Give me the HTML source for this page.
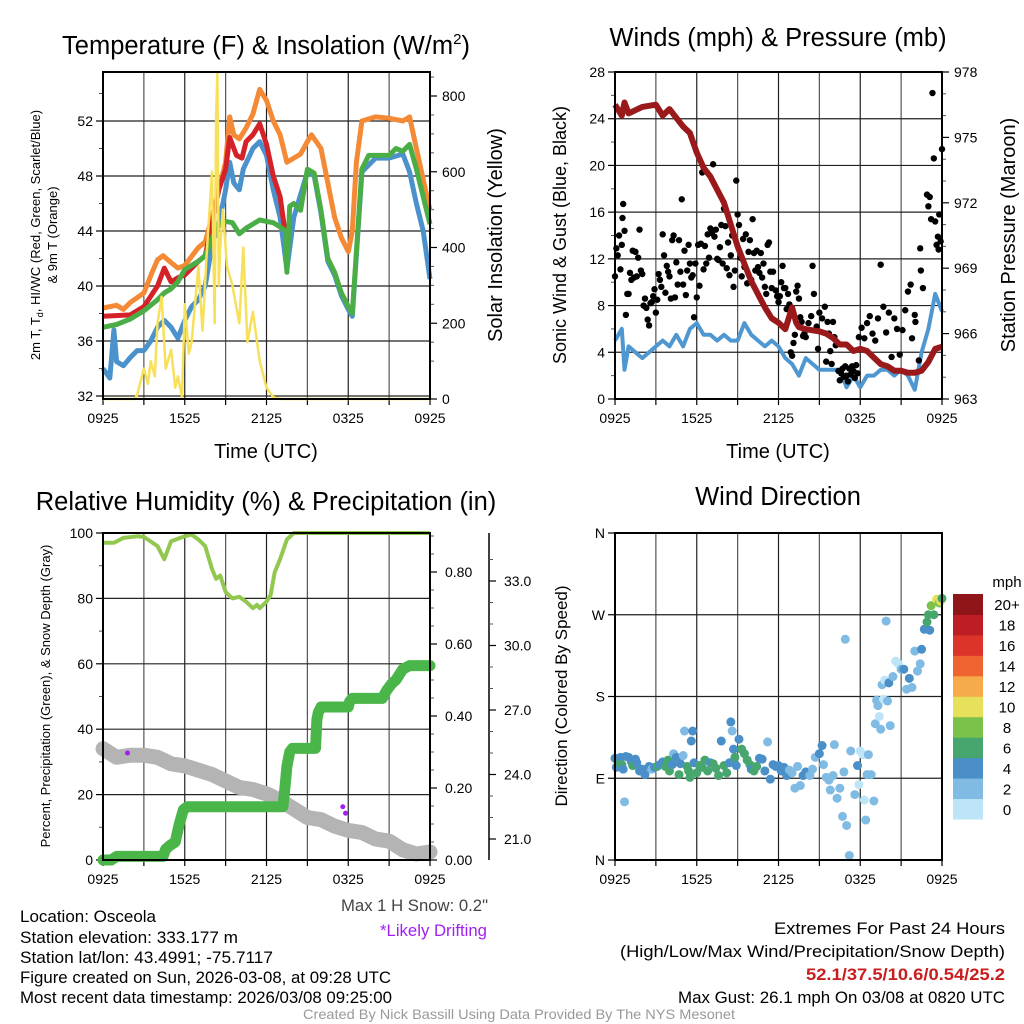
<!DOCTYPE html>
<html><head><meta charset="utf-8"><style>
html,body{margin:0;padding:0;background:#fff;}
svg{display:block;font-family:"Liberation Sans",sans-serif;}
</style></head><body>
<svg id="fig" width="1024" height="1024" viewBox="0 0 1024 1024" xmlns="http://www.w3.org/2000/svg">
<text x="266" y="54" font-size="25.5" text-anchor="middle">Temperature (F) &amp; Insolation (W/m<tspan font-size="15" dy="-10">2</tspan><tspan dy="10">)</tspan></text>
<text x="778" y="46" font-size="25.5" text-anchor="middle">Winds (mph) &amp; Pressure (mb)</text>
<text x="266" y="510" font-size="25.5" text-anchor="middle">Relative Humidity (%) &amp; Precipitation (in)</text>
<text x="778" y="505" font-size="25.5" text-anchor="middle">Wind Direction</text>
<g font-size="17">
<text x="20" y="922" textLength="136" lengthAdjust="spacingAndGlyphs">Location: Osceola</text>
<text x="20" y="943" textLength="218" lengthAdjust="spacingAndGlyphs">Station elevation: 333.177 m</text>
<text x="20" y="963" textLength="253" lengthAdjust="spacingAndGlyphs">Station lat/lon: 43.4991; -75.7117</text>
<text x="20" y="983" textLength="371" lengthAdjust="spacingAndGlyphs">Figure created on Sun, 2026-03-08, at 09:28 UTC</text>
<text x="20" y="1003" textLength="372" lengthAdjust="spacingAndGlyphs">Most recent data timestamp: 2026/03/08 09:25:00</text>
<text x="341" y="911" fill="#444" textLength="147" lengthAdjust="spacingAndGlyphs">Max 1 H Snow: 0.2"</text>
<text x="380" y="936" fill="#a020f0" textLength="107" lengthAdjust="spacingAndGlyphs">*Likely Drifting</text>
<text x="774" y="934" textLength="231" lengthAdjust="spacingAndGlyphs">Extremes For Past 24 Hours</text>
<text x="620" y="957" textLength="385" lengthAdjust="spacingAndGlyphs">(High/Low/Max Wind/Precipitation/Snow Depth)</text>
<text x="806" y="980" fill="#c81e1e" font-weight="bold" textLength="199" lengthAdjust="spacingAndGlyphs">52.1/37.5/10.6/0.54/25.2</text>
<text x="678" y="1003" textLength="327" lengthAdjust="spacingAndGlyphs">Max Gust: 26.1 mph On 03/08 at 0820 UTC</text>
<text x="303" y="1019" font-size="14" fill="#999" textLength="432" lengthAdjust="spacingAndGlyphs">Created By Nick Bassill Using Data Provided By The NYS Mesonet</text>
</g>
</svg>
<script>
// ---- Data ----
const timeTicks=["0925","1525","2125","0325","0925"];
const tempTicks=[32,36,40,44,48,52];
const solarTicks=[0,200,400,600,800];
const windTicks=[0,4,8,12,16,20,24,28];
const presTicks=[963,966,969,972,975,978];
const rhTicks=[0,20,40,60,80,100];
const precipTicks=["0.00","0.20","0.40","0.60","0.80"];
const snowTicks=["21.0","24.0","27.0","30.0","33.0"];
const dirTicks=["N","E","S","W","N"];
const speedLevels=["0","2","4","6","8","10","12","14","16","18","20+"];
const speedColors=["#bde5f7","#80bbe3","#4a8fc8","#47a56e","#7bc24a","#e6e05a","#f6aa4a","#ef6430","#dc3428","#bf1d25","#8f1518"];

const orangeT=[0,1,1.5,2,3,3.6,4,4.4,5,5.5,6,7,7.5,8,8.5,9,9.3,9.6,10,10.5,11,11.5,12,12.5,13,13.5,14,14.5,15,15.3,16,16.5,17,17.5,18,18.3,18.6,19,20,21,22,22.5,23,24];
const orangeV=[38.4,38.6,38.3,38.8,39.5,41,41.9,42.2,41.7,41.3,41.5,42.8,43.2,45,47,49,52.3,51,50.7,51.5,52.5,54.3,53.5,52,51,49,49.3,49.6,50.5,51,50,47.5,45,43.5,42.5,44,49,52,52.3,52.2,52,52.3,50,45.5];
const redT=[0,2,3,4,4.5,5,5.5,6,7,7.5,8,8.5,9,9.3,9.8,10.2,10.5,11,11.5,12,12.5,13,13.35];
const redV=[37.8,37.9,38.5,40,41.3,40.3,40.6,40.8,41.8,42.2,44.5,47,48.5,50.8,49.5,49.3,50.5,51,51.8,50.3,48,46.5,44];
const greenT=[0,1,2,3,4,4.5,5,5.5,6,7,7.5,8,8.5,9,9.5,10,10.5,11,11.5,12,12.5,13,13.4,13.5,13.7,14,14.5,15,15.5,16,16.5,17,17.5,18,18.3,18.7,19,19.5,20,21,21.5,22,22.5,23,24];
const greenV=[37,37.2,37.6,38.2,39,39.5,39.8,40.3,41.2,41.8,42.2,43.5,44.5,44.7,44.6,43.8,44.2,44.5,44.8,44.7,44.6,44.3,44,41,45.8,46,45.5,48.5,48.2,45.5,42,41,39.5,38.5,38,44,48.5,49.5,49.5,49.5,50,49.8,50.3,48.5,44.5];
const blueT=[0,0.5,0.8,1,1.5,2,2.5,3,3.5,4,4.5,5,5.5,6,6.5,7,7.5,8,8.5,9,9.3,9.6,10,10.3,11,11.5,12,12.5,13,13.5,14,15,15.5,16,16.5,17,17.5,18,18.3,18.7,19,20,21,22,22.5,23,23.5,24];
const blueV=[34,33.3,36.8,34.5,34.2,34.8,35.3,35.3,36,37,37.5,37,36.2,37.5,38.5,39,40,43,44.5,47,49,47.5,47,48.5,50,50.5,49.5,47,45,41.2,45,48.3,48,45.3,41.8,40.8,39.3,38.3,37.8,43.8,48.3,49.3,49.3,49.6,48.3,46,44,40.5];
const solarT=[0,2.3,2.5,3,3.3,3.5,3.8,4,4.3,4.6,5,5.3,5.5,5.8,6,6.3,6.5,7,7.3,7.6,8,8.2,8.3,8.4,8.5,8.6,8.8,9.1,9.5,10,10.3,10.6,11,11.5,12,12.5,13,24];
const solarV=[0,0,10,80,40,100,60,200,270,80,130,30,60,5,250,120,150,350,180,380,600,200,750,860,300,400,500,350,300,200,400,150,230,100,30,5,0,0];

const windT=[0,0.5,0.7,1,1.5,2,2.5,3,3.5,4,4.5,5,5.5,6,6.5,7,7.5,8,8.5,9,9.5,10,10.5,11,11.5,12,12.5,13,13.5,14,14.5,15,15.5,16,16.5,17,17.5,18,18.5,19,19.5,20,20.5,21,21.5,22,22.5,23,23.5,24];
const windV=[5,6,2.5,4.5,4,3.5,4,4.5,5,4.5,5.5,4.5,6,6.5,5.5,5.5,5,5.5,5,5,6.5,5.5,5,4.5,5,4.5,3.5,3,2,3.5,3,2.5,2.5,2.5,2.5,1,2,1,2,2,2.5,2.5,2,2.5,2,0.8,4,6,9,7.5];
const presT=[0,0.5,0.7,1,2,3,3.5,4,4.5,5,5.5,6,6.5,7,7.5,8,8.5,9,9.5,10,10.5,11,11.5,12,12.5,13,13.3,13.5,14,15,15.5,16,16.5,17,17.5,18,18.5,19,19.5,20,20.5,21,21.5,22,22.5,23,23.5,24];
const presV=[976.5,976.0,976.6,976.1,976.4,976.5,976.0,976.3,975.9,975.5,975.2,974.3,973.6,973.2,972.6,972.0,971.0,970.0,969.2,968.4,967.8,967.2,966.7,966.5,966.2,967.2,966.5,966.3,966.2,966.1,966.0,965.8,965.5,965.5,965.2,965.3,965.2,964.9,964.6,964.5,964.3,964.3,964.2,964.2,964.3,964.7,965.3,965.4];
const gustT=[0,0.1,0.2,0.3,0.4,0.5,0.55,0.6,0.7,0.8,0.9,1,1.1,1.2,1.3,1.4,1.5,1.6,1.7,1.8,1.9,2,2.1,2.2,2.3,2.4,2.5,2.6,2.7,2.8,2.9,3,3.1,3.2,3.3,3.4,3.5,3.6,3.7,3.8,3.9,4,4.1,4.2,4.3,4.4,4.5,4.6,4.7,4.8,4.9,5,5.1,5.2,5.3,5.4,5.5,5.6,5.7,5.8,5.9,6,6.1,6.2,6.3,6.4,6.5,6.6,6.7,6.8,6.9,7,7.1,7.2,7.3,7.4,7.5,7.6,7.7,7.8,7.9,8,8.1,8.2,8.3,8.4,8.5,8.6,8.7,8.8,8.9,9,9.1,9.2,9.3,9.4,9.5,9.6,9.7,9.8,9.9,10,10.1,10.2,10.3,10.4,10.5,10.6,10.7,10.8,10.9,11,11.1,11.2,11.3,11.4,11.5,11.6,11.8,11.9,12,12.1,12.2,12.3,12.4,12.5,12.6,12.7,12.8,12.9,13,13.1,13.2,13.3,13.4,13.5,13.6,13.7,13.8,13.9,14,14.2,14.4,14.5,14.6,14.7,14.8,14.9,15,15.2,15.4,15.5,15.6,15.7,15.8,15.9,16,16.1,16.2,16.4,16.5,16.6,16.7,16.8,16.9,17,17.1,17.2,17.3,17.4,17.5,17.6,17.7,17.8,17.9,18.1,18.3,18.5,18.7,18.9,19.1,19.3,19.5,19.7,19.9,20.1,20.3,20.5,20.7,20.9,21.1,21.3,21.5,21.7,21.8,22,22.05,22.3,22.4,22.45,22.6,22.9,23,23.1,23.2,23.3,23.4,23.5,23.6,23.7,23.75,23.8,23.9,24];
const gustV=[10.5,12.9,12.3,14,11.1,13.2,15.5,16.7,14.4,7.2,9,9,10.8,10.2,12.7,10.4,12.6,10.5,12.1,14.5,11,10.7,8,8.6,7.8,6.8,6.3,8.2,8.3,8.8,9.4,7.4,8.5,10.7,10.2,9.6,14.1,12.3,9.1,11.4,10.9,10.5,8.6,13.6,14,8.7,11.7,9.8,13.6,10.9,17.1,9.8,12.7,8.9,11,13.2,11.6,10.4,10.6,7,11.6,8.7,13.2,9.7,13.3,19.4,11.1,13.1,11.6,14.1,12.1,14.6,14.2,20.1,13.9,14.5,12,11.9,13,14.9,11.6,16.3,14.8,11.2,13.4,10.6,12.3,14,9.6,11,18.7,15.8,14.9,12.1,10.5,13.7,11.3,14.1,9.9,12.6,13.6,10.2,15.4,12.5,11,12.7,11.3,10.8,12.5,10.4,11.6,9.6,9,13.2,13.4,10.9,9.5,10.9,9.3,8.8,8.3,8.8,10,11.4,9.5,9.5,7.7,9,8.1,4,3.7,4.8,5.5,9.2,9.7,8.6,7,6.6,5.4,5.6,5.3,6.5,7.1,11.4,9,5.9,6.2,4.3,7.4,6.9,7.9,3.2,6.6,5.6,4.1,3,6.6,5.3,4.6,2.4,1.6,2.2,2.6,1.9,2.8,2,1.5,2.6,2.1,2.8,2.4,1.8,2.9,2.2,5.3,6.1,5.2,6.5,7.1,5.6,5,6.9,11.5,7.9,5.7,7.4,3.6,6.9,6,3.8,5.9,7.6,9.2,9.8,5.2,7.2,6.6,3.3,12.9,11,9.5,17.5,16.5,17.3,15.4,26.2,20.6,15.2,13.2,13.9,12.8,15.8,13.5,21.4,17.3,17,19.2,16.9];

const rhT=[0,0.8,1.5,2.5,3,4,4.5,5,6,6.5,7,7.5,8,8.3,8.6,9,9.5,10,10.5,11,11.3,11.5,12,12.3,12.6,13,13.5,14,24];
const rhV=[97,97,98.5,99,98.8,96,92,97.5,99,99.5,98,96,89,86,87,82,80,80.5,79,77,78,77,79,81,88,92,98,100,100];
const precipT=[0,0.6,1,4.4,4.6,4.9,5.3,5.6,5.9,6.2,13.2,13.3,13.4,13.5,13.7,13.9,15.6,15.7,15.8,16,18,18.1,18.3,20.5,20.8,21.2,21.5,22,22.5,24];
const precipV=[0,0,0.01,0.01,0.03,0.04,0.05,0.1,0.14,0.148,0.148,0.18,0.22,0.26,0.30,0.31,0.31,0.39,0.41,0.425,0.425,0.44,0.449,0.449,0.47,0.49,0.50,0.53,0.54,0.54];
const snowT=[0,1,2,3,4,5,6,7,8,9,10,11,12,13,14,15,16,17,18,19,20,21,22,23,24];
const snowV=[25.2,24.8,24.9,24.9,24.8,24.5,24.4,24.2,24.0,23.7,23.4,23.3,23.1,22.8,22.4,22.0,21.9,21.6,21.4,21.3,21.0,20.9,20.5,20.3,20.4];
const driftT=[1.8,17.6,17.8];
const driftV=[25.0,22.5,22.2];

const dirT=[0,0.1,0.2,0.3,0.4,0.5,0.6,0.7,0.8,1.0,1.2,1.3,1.5,1.6,1.8,2.0,2.2,2.5,2.7,2.9,3.1,3.3,3.5,3.7,3.9,4.0,4.2,4.3,4.5,4.7,4.8,5.0,5.1,5.3,5.4,5.5,5.6,5.7,5.8,6.0,6.2,6.4,6.6,6.8,7.0,7.2,7.4,7.6,7.8,8.0,8.2,8.4,8.5,8.6,8.7,8.8,8.9,9.1,9.3,9.5,9.7,9.9,10.0,10.2,10.4,10.6,10.8,11.0,11.2,11.4,11.6,11.8,12.0,12.2,12.4,12.6,12.8,13.0,13.2,13.4,13.6,13.8,14.0,14.3,14.5,14.7,15.0,15.2,15.3,15.5,15.7,15.8,16.0,16.1,16.3,16.5,16.7,16.8,16.9,17.0,17.2,17.3,17.6,17.8,17.9,18.0,18.2,18.3,18.4,18.5,18.6,18.8,19.0,19.1,19.2,19.3,19.4,19.5,19.6,19.7,19.8,19.9,20.0,20.1,20.2,20.4,20.6,20.8,21.0,21.2,21.4,21.6,21.8,22.0,22.2,22.4,22.5,22.7,22.9,23.0,23.1,23.2,23.4,23.6,23.8,23.9,24.0];
const dirV=[112,102,110,108,113,105,100,64,114,113,108,104,111,107,98,100,94,103,100,102,103,105,108,103,110,98,105,117,113,94,106,115,142,103,98,91,131,142,107,96,104,102,110,98,107,106,101,93,131,104,96,107,152,142,122,113,104,133,122,117,110,105,100,98,103,112,111,98,130,89,105,103,104,98,102,93,99,96,79,103,82,93,97,93,100,113,117,126,105,91,88,77,93,127,68,79,48,97,243,38,5,120,72,104,83,120,116,66,44,94,116,94,65,150,176,170,158,144,193,177,198,263,175,195,148,202,219,216,210,210,188,200,190,230,208,216,232,254,262,270,253,280,270,287,283,285,288];
const dirS=[4,4,6,6,3,6,4,2,4,4,4,6,4,4,4,3,4,4,2,4,6,4,4,6,6,6,4,2,4,6,4,2,2,6,6,6,4,4,4,6,6,6,6,6,4,6,6,6,4,6,6,4,4,2,4,6,4,4,6,6,6,6,4,6,6,4,4,4,2,4,4,4,4,4,4,4,2,2,2,2,2,4,4,2,2,2,4,4,2,2,2,2,2,2,2,2,2,2,2,2,2,2,2,4,0,0,0,0,2,2,2,2,2,2,2,2,0,2,2,0,0,2,2,4,2,2,0,0,2,4,2,4,2,2,2,2,4,4,6,6,4,8,6,10,8,10,6];

// ---- Drawing ----
const NS="http://www.w3.org/2000/svg";
const fig=document.getElementById('fig');
function mk(tag,attrs,parent){const e=document.createElementNS(NS,tag);for(const k in attrs)e.setAttribute(k,attrs[k]);(parent||fig).appendChild(e);return e;}
function lin(d0,d1,r0,r1){return v=>r0+(v-d0)*(r1-r0)/(d1-d0);}
function pathD(xs,ys,fx,fy){return xs.map((t,i)=>(i?'L':'M')+fx(t).toFixed(1)+','+fy(ys[i]).toFixed(1)).join('');}

const L=[103,430],R=[615,942];
function panelFrame(x0,x1,y0,y1,hVals,hScale,name){
  const g=mk('g',{});
  
  
  for(let i=0;i<=8;i++){const x=x0+i*(x1-x0)/8;mk('line',{x1:x,x2:x,y1:y0,y2:y1,stroke:(i%2?'#555':'#222'),'stroke-width':1.2},g);
    mk('line',{x1:x,x2:x,y1:y1,y2:y1+6,stroke:'#000','stroke-width':1.2},g);}
  hVals.forEach(v=>{const y=hScale(v);mk('line',{x1:x0,x2:x1,y1:y,y2:y,stroke:'#222','stroke-width':1.2},g);});
  timeTicks.forEach((s,i)=>{const t=mk('text',{x:x0+i*(x1-x0)/4,y:y1+24,'font-size':14,'text-anchor':'middle'},g);t.textContent=s;});
  return g;
}
function frameBox(x0,x1,y0,y1,name){const r=mk('rect',{x:x0,y:y0,width:x1-x0,height:y1-y0,fill:'none',stroke:'#000','stroke-width':2});
  
  }
function leftAxis(x,vals,sc,labels,minor,name){const g=mk('g',{});
  
  
  vals.forEach((v,i)=>{const y=sc(v);mk('line',{x1:x-7,x2:x,y1:y,y2:y,stroke:'#000','stroke-width':1.2},g);const t=mk('text',{x:x-10,y:y+5,'font-size':14,'text-anchor':'end'},g);t.textContent=labels[i];});
  minor.forEach(v=>{const y=sc(v);mk('line',{x1:x-4,x2:x,y1:y,y2:y,stroke:'#555','stroke-width':1},g);});}
function rightAxis(x,vals,sc,labels,minor,name,off){const g=mk('g',{});
  
  
  vals.forEach((v,i)=>{const y=sc(v);mk('line',{x1:x,x2:x+7,y1:y,y2:y,stroke:'#000','stroke-width':1.2},g);const t=mk('text',{x:x+(off||12),y:y+5,'font-size':14},g);t.textContent=labels[i];});
  minor.forEach(v=>{const y=sc(v);mk('line',{x1:x,x2:x+4,y1:y,y2:y,stroke:'#555','stroke-width':1},g);});}
function vtext(x,y,txt,size,name){const t=mk('text',{x:0,y:0,'font-size':size,'text-anchor':'middle',transform:`translate(${x},${y}) rotate(-90)`});t.textContent=txt;
  
  return t;}
function range(a,b,s){const r=[];for(let v=a;v<=b+1e-9;v+=s)r.push(+v.toFixed(3));return r;}

// Panel 1
const x1s=lin(0,24,L[0],L[1]);
const tY=lin(32,52,396,121), sY=lin(0,800,399,96);
panelFrame(L[0],L[1],72,399,tempTicks,tY,'temperature');
leftAxis(L[0],tempTicks,tY,tempTicks.map(String),range(34,54,2).filter(v=>v%4),'temperature-axis');
rightAxis(L[1],solarTicks,sY,solarTicks.map(String),range(100,850,50).filter(v=>v%200),'solar-axis');
let p;
p=mk('path',{d:pathD(orangeT,orangeV,x1s,tY),fill:'none',stroke:'#f48a36','stroke-width':5,'stroke-linejoin':'round'});


p=mk('path',{d:pathD(blueT,blueV,x1s,tY),fill:'none',stroke:'#4b92cc','stroke-width':5,'stroke-linejoin':'round'});


p=mk('path',{d:pathD(redT,redV,x1s,tY),fill:'none',stroke:'#d42228','stroke-width':5,'stroke-linejoin':'round'});


p=mk('path',{d:pathD(greenT,greenV,x1s,tY),fill:'none',stroke:'#4aad46','stroke-width':5,'stroke-linejoin':'round'});


p=mk('path',{d:pathD(solarT,solarV,x1s,sY),fill:'none',stroke:'#f7e05a','stroke-width':2.5,'stroke-linejoin':'round'});


frameBox(L[0],L[1],72,399,'temperature');
const tl=vtext(40,235,'2m T, T',13,'temperature-axis-title');
const sub=mk('tspan',{'font-size':9,dy:3},tl);sub.textContent='d';
const rest=mk('tspan',{dy:-3},tl);rest.textContent=', HI/WC (Red, Green, Scarlet/Blue)';
vtext(57,235,'& 9m T (Orange)',13,'temperature-axis-title-2');
vtext(502,235,'Solar Insolation (Yellow)',20,'solar-axis-title');
let tt=mk('text',{x:266,y:458,'font-size':20,'text-anchor':'middle'});tt.textContent='Time (UTC)';



// Panel 2
const x2s=lin(0,24,R[0],R[1]);
const wY=lin(0,28,399,72), pY=lin(963,978,399,72);
panelFrame(R[0],R[1],72,399,windTicks.slice(1,-1),wY,'winds');
leftAxis(R[0],windTicks,wY,windTicks.map(String),range(2,26,2).filter(v=>v%4),'wind-axis');
rightAxis(R[1],presTicks,pY,presTicks.map(String),range(964,977,1).filter(v=>(v-963)%3),'pressure-axis');
p=mk('path',{d:pathD(windT,windV,x2s,wY),fill:'none',stroke:'#4f97d1','stroke-width':4,'stroke-linejoin':'round'});


const gg=mk('g',{});


gustT.forEach((t,i)=>{mk('circle',{cx:x2s(t),cy:wY(gustV[i]),r:3.2,fill:'#000'},gg);});
p=mk('path',{d:pathD(presT,presV,x2s,pY),fill:'none',stroke:'#9a1a1c','stroke-width':6,'stroke-linejoin':'round'});


frameBox(R[0],R[1],72,399,'winds');
vtext(566,235,'Sonic Wind & Gust (Blue, Black)',18,'wind-axis-title');
vtext(1015,235,'Station Pressure (Maroon)',20,'pressure-axis-title');
tt=mk('text',{x:778,y:458,'font-size':20,'text-anchor':'middle'});tt.textContent='Time (UTC)';



// Panel 3
const rY=lin(0,100,860,533), prY=lin(0,0.8,860,572), snY=lin(21,33,839,581);
panelFrame(L[0],L[1],533,860,rhTicks,rY,'humidity');
leftAxis(L[0],rhTicks,rY,rhTicks.map(String),range(10,90,10).filter(v=>v%20),'percent-axis');
rightAxis(L[1],precipTicks.map(Number),prY,precipTicks,range(0.05,0.9,0.05).filter(v=>Math.round(v*100)%20),'precip-axis',15);
mk('line',{x1:489,x2:489,y1:533,y2:860,stroke:'#000','stroke-width':1.5});
rightAxis(489,snowTicks.map(Number),snY,snowTicks,range(22,34,1).filter(v=>v%3),'snow-axis',15);
p=mk('path',{d:pathD(rhT,rhV,x1s,rY),fill:'none',stroke:'#92c850','stroke-width':4,'stroke-linejoin':'round'});


p=mk('path',{d:pathD(snowT,snowV,x1s,snY),fill:'none',stroke:'#b4b4b4','stroke-width':15,'stroke-linejoin':'round','stroke-linecap':'round'});


p=mk('path',{d:pathD(precipT,precipV,x1s,prY),fill:'none',stroke:'#4ab548','stroke-width':11,'stroke-linejoin':'round','stroke-linecap':'round'});


const dg=mk('g',{});


driftT.forEach((t,i)=>{mk('circle',{cx:x1s(t),cy:snY(driftV[i]),r:2.5,fill:'#a020f0'},dg);});
frameBox(L[0],L[1],533,860,'humidity');
vtext(50,696,'Percent, Precipitation (Green), & Snow Depth (Gray)',13,'humidity-axis-title');

// Panel 4
const dY=lin(0,360,860,533);
panelFrame(R[0],R[1],533,860,[90,180,270],dY,'direction');
leftAxis(R[0],[0,90,180,270,360],dY,dirTicks,[],'direction-axis');
const pg=mk('g',{});


dirT.forEach((t,i)=>{mk('circle',{cx:x2s(t),cy:dY(dirV[i]),r:4.5,fill:speedColors[Math.min(10,Math.round(dirS[i]/2))]},pg);});
frameBox(R[0],R[1],533,860,'direction');
vtext(567,696,'Direction (Colored By Speed)',17,'direction-axis-title');
const cb=mk('g',{});


const cbH=(819-594)/speedLevels.length;
speedLevels.forEach((s,i)=>{const y=819-(i+1)*cbH;mk('rect',{x:953,y:y,width:30,height:cbH+0.5,fill:speedColors[i]},cb);
  const t=mk('text',{x:1007,y:y+cbH/2+6,'font-size':15,'text-anchor':'middle'},cb);t.textContent=s;});
tt=mk('text',{x:1007,y:587,'font-size':15,'text-anchor':'middle'},cb);tt.textContent='mph';
</script>
</body></html>
